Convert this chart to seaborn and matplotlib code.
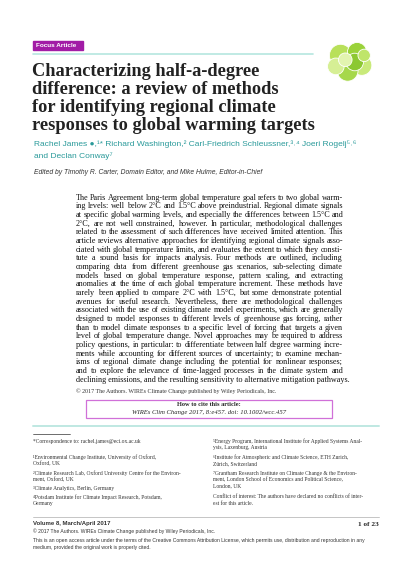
import matplotlib
matplotlib.use("Agg")
import matplotlib.pyplot as plt
import seaborn as sns
import pandas as pd
from matplotlib.patches import Rectangle
from matplotlib.lines import Line2D

sns.set_theme(style="white")
plt.rcParams['font.family'] = ['Liberation Serif', 'DejaVu Serif']

W, H = 400, 565
TEAL = "#2a9a9a"
MAG = "#a21ca6"

tag_text = "Focus Article"
title_lines = ["Characterizing half-a-degree", "difference: a review of methods",
               "for identifying regional climate", "responses to global warming targets"]
author_lines = ["Rachel James \u25cf,\u00b9* Richard Washington,\u00b2 Carl-Friedrich Schleussner,\u00b3\u02d2\u2074 Joeri Rogelj\u2075\u02d2\u2076",
                "and Declan Conway\u2077"]
editor_line = "Edited by Timothy R. Carter, Domain Editor, and Mike Hulme, Editor-in-Chief"
abstract_lines = [
 "The Paris Agreement long-term global temperature goal refers to two global warm-",
 "ing levels: well below 2\u00b0C and 1.5\u00b0C above preindustrial. Regional climate signals",
 "at specific global warming levels, and especially the differences between 1.5\u00b0C and",
 "2\u00b0C, are not well constrained, however. In particular, methodological challenges",
 "related to the assessment of such differences have received limited attention. This",
 "article reviews alternative approaches for identifying regional climate signals asso-",
 "ciated with global temperature limits, and evaluates the extent to which they consti-",
 "tute a sound basis for impacts analysis. Four methods are outlined, including",
 "comparing data from different greenhouse gas scenarios, sub-selecting climate",
 "models based on global temperature response, pattern scaling, and extracting",
 "anomalies at the time of each global temperature increment. These methods have",
 "rarely been applied to compare 2\u00b0C with 1.5\u00b0C, but some demonstrate potential",
 "avenues for useful research. Nevertheless, there are methodological challenges",
 "associated with the use of existing climate model experiments, which are generally",
 "designed to model responses to different levels of greenhouse gas forcing, rather",
 "than to model climate responses to a specific level of forcing that targets a given",
 "level of global temperature change. Novel approaches may be required to address",
 "policy questions, in particular: to differentiate between half degree warming incre-",
 "ments while accounting for different sources of uncertainty; to examine mechan-",
 "isms of regional climate change including the potential for nonlinear responses;",
 "and to explore the relevance of time-lagged processes in the climate system and",
 "declining emissions, and the resulting sensitivity to alternative mitigation pathways.",
]
copyright_line = "\u00a9 2017 The Authors. WIREs Climate Change published by Wiley Periodicals, Inc."
cite_lines = ["How to cite this article:", "WIREs Clim Change 2017, 8:e457. doi: 10.1002/wcc.457"]
foot_left = [
 ["*Correspondence to: rachel.james@eci.ox.ac.uk"],
 ["\u00b9Environmental Change Institute, University of Oxford,", "Oxford, UK"],
 ["\u00b2Climate Research Lab, Oxford University Centre for the Environ-", "ment, Oxford, UK"],
 ["\u00b3Climate Analytics, Berlin, Germany"],
 ["\u2074Potsdam Institute for Climate Impact Research, Potsdam,", "Germany"],
]
foot_right = [
 ["\u2075Energy Program, International Institute for Applied Systems Anal-", "ysis, Laxenburg, Austria"],
 ["\u2076Institute for Atmospheric and Climate Science, ETH Zurich,", "Z\u00fcrich, Switzerland"],
 ["\u2077Grantham Research Institute on Climate Change & the Environ-",
  "ment, London School of Economics and Political Science,", "London, UK"],
 ["Conflict of interest: The authors have declared no conflicts of inter-", "est for this article."],
]
bottom_lines = ["\u00a9 2017 The Authors. WIREs Climate Change published by Wiley Periodicals, Inc.",
 "This is an open access article under the terms of the Creative Commons Attribution License, which permits use, distribution and reproduction in any",
 "medium, provided the original work is properly cited."]
volume_text = "Volume 8, March/April 2017"
page_text = "1 of 23"
logo_x = [-8, 6, 10, -2, -12, 4, -4, 12]
logo_y = [6, 9, -3, -8, -4, 0, 2, 6]
logo_s = [160, 120, 130, 140, 90, 100, 60, 50]
logo_c = ["#b8e05a", "#9ad23a", "#c9ea7a", "#a6d84a", "#d6ef95", "#8cc832", "#e2f4b0", "#bfe56a"]

fig = plt.figure(figsize=(4, 5.65), dpi=100)
fig.patch.set_facecolor("white")

def fy(py):
    return 1 - py / H

def fx(px):
    return px / W

def txt(px, py, s, **kw):
    kw.setdefault("va", "center")
    return fig.text(fx(px), fy(py), s, **kw)

def hline(x0, x1, py, color, lw):
    fig.add_artist(Line2D([fx(x0), fx(x1)], [fy(py), fy(py)], color=color, lw=lw))

fig.add_artist(Rectangle((fx(33), fy(50)), fx(50), 9 / H, color=MAG, transform=fig.transFigure))
txt(36, 45.5, tag_text, color="white", fontsize=4.6, family="Liberation Sans", fontweight="bold")
hline(33, 313, 53.5, "#b5e6df", 1.2)

for i, s in enumerate(title_lines):
    txt(32, 72 + i * 18, s, fontsize=13.2, color="#222222", fontweight="semibold")

for i, s in enumerate(author_lines):
    txt(34, 144 + i * 12, s, fontsize=6.0, color=TEAL, family=["Liberation Sans", "DejaVu Sans"])
txt(34, 173, editor_line, fontsize=4.9, family="Liberation Sans", style="italic", color="#333")

fig.canvas.draw()
r = fig.canvas.get_renderer()
AX0, AX1 = 76, 343
fs_ab = 5.9
for i, s in enumerate(abstract_lines):
    py = 197.5 + i * 8.68
    if i == len(abstract_lines) - 1:
        txt(AX0, py, s, fontsize=fs_ab, color="#111")
        continue
    words = s.split(" ")
    ts = [txt(AX0, py, w, fontsize=fs_ab, color="#111") for w in words]
    widths = [t.get_window_extent(r).width for t in ts]
    gap = (AX1 - AX0 - sum(widths)) / max(len(words) - 1, 1)
    x = AX0
    for t, w in zip(ts, widths):
        t.set_x(fx(x))
        x += w + gap
txt(76, 391, copyright_line, fontsize=4.3, color="#333")

fig.add_artist(Rectangle((fx(86), fy(418)), fx(246), 18 / H, fill=False, ec="#d070d8", lw=0.9,
                         transform=fig.transFigure))
txt(209, 404, cite_lines[0], fontsize=4.6, ha="center", fontweight="bold")
txt(209, 412.5, cite_lines[1], fontsize=4.8, ha="center", style="italic")
hline(33, 379, 425.5, "#bfe8e2", 1.4)
hline(33, 70, 434, "#333", 0.5)

def foot(col, x0, starts):
    for block, y0 in zip(col, starts):
        for j, s in enumerate(block):
            txt(x0, y0 + j * 6.6, s, fontsize=4.0, color="#333")
foot(foot_left, 33, [441, 457, 473, 488.5, 497])
foot(foot_right, 213, [441, 457, 473, 497])

hline(33, 379, 517, "#bbbbbb", 0.6)
txt(33, 524, volume_text, fontsize=4.3, family="Liberation Sans", fontweight="bold", color="#333")
txt(379, 524, page_text, fontsize=5.2, ha="right", fontweight="bold")
for i, s in enumerate(bottom_lines):
    txt(33, 531.5 + i * 7.7 + (1 if i else 0), s, fontsize=3.6, family="Liberation Sans", color="#333")

lax = fig.add_axes([fx(324), fy(84), fx(52), 44 / H])
df = pd.DataFrame({"x": logo_x, "y": logo_y, "s": logo_s, "c": logo_c})
sns.scatterplot(data=df, x="x", y="y", s=df["s"].values * 1.6, c=df["c"].values, ax=lax,
                edgecolor="white", linewidth=0.6, legend=False)
lax.set_xlim(-22, 22); lax.set_ylim(-20, 20)
lax.axis("off")

fig.savefig("out.png", dpi=100, facecolor="white")
